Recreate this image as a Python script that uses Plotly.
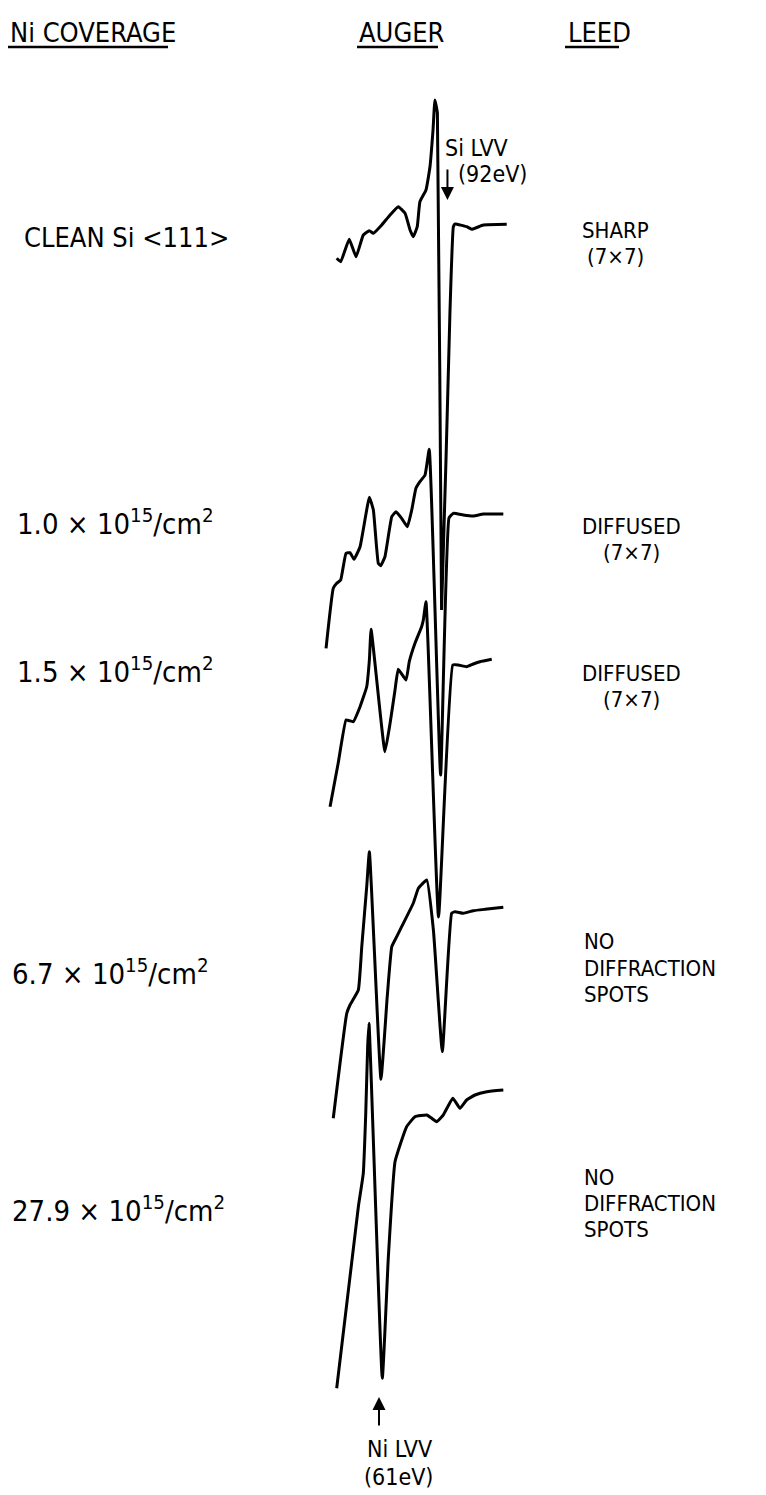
import plotly.graph_objects as go

# ---------------- data (energy in eV, dN/dE in arbitrary units) ----------------
coverage_labels = [
    "CLEAN Si &lt;111&gt;",
    "1.0 \u00d7 10<sup>15</sup>/cm<sup>2</sup>",
    "1.5 \u00d7 10<sup>15</sup>/cm<sup>2</sup>",
    "6.7 \u00d7 10<sup>15</sup>/cm<sup>2</sup>",
    "27.9 \u00d7 10<sup>15</sup>/cm<sup>2</sup>",
]
leed_lines = [
    ["SHARP", "(7\u00d77)"],
    ["DIFFUSED", "(7\u00d77)"],
    ["DIFFUSED", "(7\u00d77)"],
    ["NO", "DIFFRACTION", "SPOTS"],
    ["NO", "DIFFRACTION", "SPOTS"],
]

E_clean = [37.1, 39.2, 43.7, 47.3, 51.1, 54.3, 56.4, 60.8, 65.2, 69.5, 73.1, 75.7, 77.4, 79.5,
           80.9, 84.1, 86.2, 87.8, 88.8, 90.1, 92.3, 96.7, 98.5, 99.4, 105.5, 108.2, 114.3, 126.6]
I_clean = [-33.3, -36.7, -14.3, -31.7, -10, -5.7, -8.3, 0, 10, 18.3, 11.7, -5, -11.7, -1.7,
           23.3, 35, 58.3, 95, 125, 112, -385, -88, -1.7, 1, -1.7, -4.3, 0, 0.7]

E_10 = [31.5, 35.3, 37.1, 39.2, 42.0, 44.1, 46.2, 49.4, 54.3, 56.4, 59.0, 60.3, 62.5, 66.1,
        68.3, 71.3, 74.3, 76.6, 78.8, 80.9, 83.6, 85.8, 91.8, 96.2, 98.5, 103.7, 109.0, 114.3, 124.8]
I_10 = [-134.3, -74.3, -69.3, -66, -39.3, -38.7, -45.3, -32.7, 16.7, 4, -49.3, -51.7, -42.7, -2.7,
        2.3, -4.3, -12.7, 4, 25.7, 32.3, 39, 64.7, -261, -4, 0.7, -1, -2, 0, 0]

E_15 = [33.6, 37.9, 42.0, 43.7, 45.8, 49.4, 52.9, 54.3, 55.2, 62.5, 65.2, 67.8, 69.5, 73.6,
        75.3, 78.3, 81.8, 82.7, 84.1, 90.7, 98.2, 101.1, 105.5, 109.0, 112.5, 118.7]
I_15 = [-141.7, -98, -55, -55.7, -56.7, -41.7, -21.7, 5, 35.7, -86.7, -58.3, -25, -4.3, -15,
        3.3, 21.7, 38.3, 45, 63.3, -252, 0, 0, -1.7, 1, 3.3, 5.7]

E_67 = [35.3, 42.4, 44.1, 48.5, 50.3, 52.9, 54.3, 60.4, 63.7, 66.1, 68.7, 71.3, 77.4, 80.1,
        84.5, 88.0, 92.7, 97.6, 99.4, 103.7, 109.0, 115.2, 124.8]
I_67 = [-207.3, -102.3, -94, -79, -35.7, 24.3, 59.3, -168.3, -85.7, -35.7, -25.7, -15.7, 7.7, 22.7,
        31, -19, -140.7, -2.3, -0.7, -2.3, 0.3, 1.7, 3.7]

E_279 = [37.1, 48.5, 51.1, 52.4, 53.4, 54.1, 61.1, 64.3, 67.8, 73.9, 78.3, 84.5, 87.1, 89.7,
         93.2, 98.2, 102.0, 105.5, 109.9, 116.1, 124.8]
I_279 = [-297.3, -115.7, -82.3, -22, 44.3, 67.7, -287.3, -165.7, -70.7, -35.7, -25.7, -24, -27.3, -30.7,
         -24, -7.3, -17.3, -9, -4, -0.7, 1]

energies = [E_clean, E_10, E_15, E_67, E_279]
intensities = [I_clean, I_10, I_15, I_67, I_279]

# ---------------- layout (positions / styles) ----------------
W, H = 766, 1495
baselines = [225, 514, 665, 911, 1091]          # vertical offset of each trace (px from top)
label_y = [238, 522, 670, 972, 1209]            # px from top for coverage labels
label_x = [22, 15, 15, 10, 10]
leed_pos = [  # (anchor x, [line y...], centered)
    (615, [230, 256], True),
    (631, [526, 552], True),
    (631, [673, 699], True),
    (583, [942, 968, 994], False),
    (583, [1177, 1203, 1229], False),
]
FONT = "Liberation Sans Narrow, DejaVu Sans Condensed, Arial Narrow, sans-serif"

def e2px(e):
    return 441 + (e - 92) * 1.9

x_range = [92 + (0 - 441) / 1.9, 92 + (W - 441) / 1.9]

fig = go.Figure()
for E, I, b in zip(energies, intensities, baselines):
    fig.add_trace(go.Scatter(
        x=E, y=[v - b for v in I], mode="lines",
        line=dict(color="black", width=3, shape="spline", smoothing=0.35),
        hoverinfo="skip", showlegend=False,
    ))

def px(x):
    return x / W

def py(y):
    return 1 - y / H

ann = []
# headers
for txt, xl in [("Ni COVERAGE", 8), ("AUGER", 357), ("LEED", 566)]:
    ann.append(dict(text=txt, x=px(xl), y=py(32), xref="paper", yref="paper",
                    xanchor="left", yanchor="middle", showarrow=False,
                    font=dict(family=FONT, size=27, color="black")))
# coverage labels
for i, (txt, yy, xl) in enumerate(zip(coverage_labels, label_y, label_x)):
    ann.append(dict(text=txt, x=px(xl), y=py(yy), xref="paper", yref="paper",
                    xanchor="left", yanchor="middle", showarrow=False,
                    font=dict(family=FONT, size=27 if i == 0 else 29, color="black")))
# LEED labels, one annotation per line
for lines, (xa, ys, centered) in zip(leed_lines, leed_pos):
    for txt, yy in zip(lines, ys):
        ann.append(dict(text=txt, x=px(xa), y=py(yy), xref="paper", yref="paper",
                        xanchor="center" if centered else "left", yanchor="middle",
                        showarrow=False, borderpad=0,
                        font=dict(family=FONT, size=22, color="black")))

# Si LVV marker
ann.append(dict(text="Si LVV", x=px(444), y=py(148), xref="paper", yref="paper",
                xanchor="left", yanchor="middle", showarrow=False, borderpad=0,
                font=dict(family=FONT, size=23, color="black")))
ann.append(dict(text="(92eV)", x=px(457), y=py(174), xref="paper", yref="paper",
                xanchor="left", yanchor="middle", showarrow=False, borderpad=0,
                font=dict(family=FONT, size=23, color="black")))
ann.append(dict(text="", x=e2px(95.4) / W, y=py(200), xref="paper", yref="paper",
                showarrow=True, arrowhead=2, arrowsize=1.3, arrowwidth=2, arrowcolor="black",
                ax=0, ay=-32))
# Ni LVV marker
ann.append(dict(text="", x=px(379), y=py(1397), xref="paper", yref="paper",
                showarrow=True, arrowhead=2, arrowsize=1.3, arrowwidth=2, arrowcolor="black",
                ax=0, ay=30))
ann.append(dict(text="Ni LVV", x=px(399), y=py(1449), xref="paper", yref="paper",
                xanchor="center", yanchor="middle", showarrow=False, borderpad=0,
                font=dict(family=FONT, size=23, color="black")))
ann.append(dict(text="(61eV)", x=px(398), y=py(1477), xref="paper", yref="paper",
                xanchor="center", yanchor="middle", showarrow=False, borderpad=0,
                font=dict(family=FONT, size=23, color="black")))

shapes = []
for x0, x1 in [(8, 168), (357, 438), (565, 619)]:
    shapes.append(dict(type="line", xref="paper", yref="paper",
                       x0=px(x0), x1=px(x1), y0=py(47), y1=py(47),
                       line=dict(color="black", width=2.5)))

fig.update_layout(
    width=W, height=H, autosize=False,
    margin=dict(l=0, r=0, t=0, b=0),
    font=dict(family=FONT, size=24, color="black"),
    paper_bgcolor="white", plot_bgcolor="white",
    xaxis=dict(range=x_range, visible=False, fixedrange=True),
    yaxis=dict(range=[-H, 0], visible=False, fixedrange=True),
    annotations=ann, shapes=shapes,
)

fig.write_html("out.html")
